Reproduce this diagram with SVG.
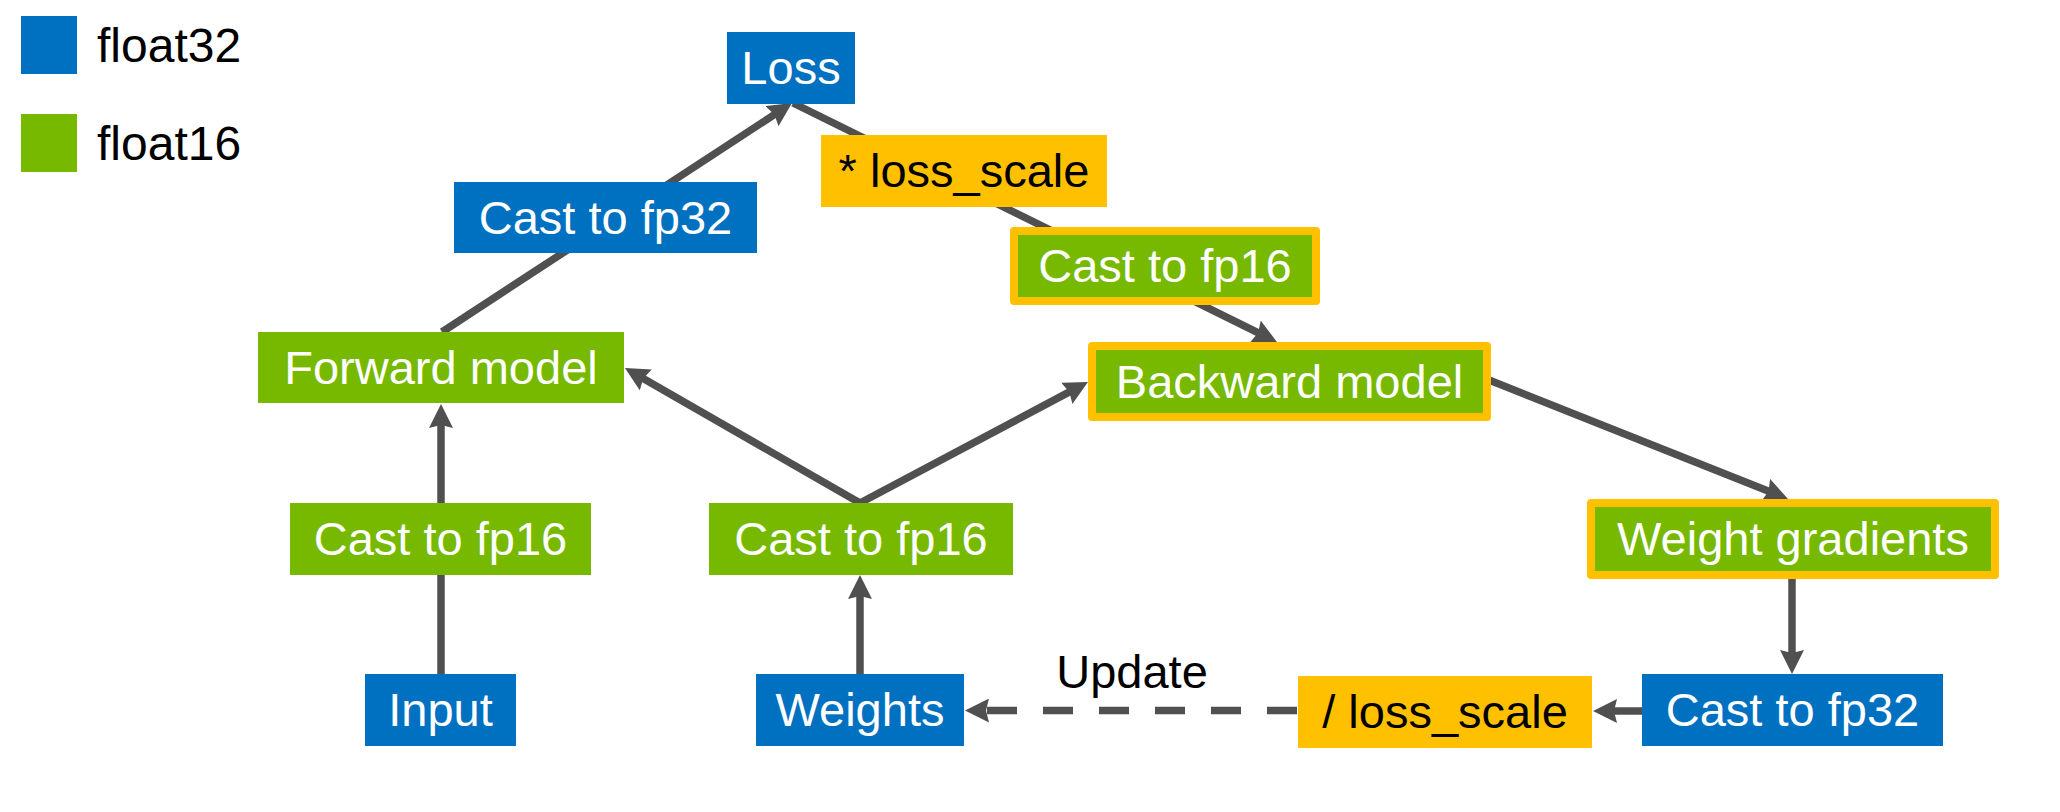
<svg xmlns="http://www.w3.org/2000/svg" width="2060" height="812" viewBox="0 0 2060 812">
  <style>
    text { font-family: "Liberation Sans", Arial, sans-serif; font-size: 47px; text-anchor: middle; }
    .fp32 { fill: #0070C0; }
    .fp16 { fill: #76B900; }
    .scale { fill: #FFC000; }
    .hl { fill: #76B900; stroke: #FFC000; stroke-width: 8; stroke-linejoin: round; }
    .lt { fill: #FFFFFF; }
    .dk { fill: #000000; }
    .legend { font-size: 48px; text-anchor: start; fill: #000000; }
    .edge { fill: none; stroke: #505050; stroke-width: 7.5; marker-end: url(#arrow); }
    .dash { stroke-dasharray: 30 26; }
  </style>
  <defs>
    <marker id="arrow" markerUnits="userSpaceOnUse" viewBox="0 0 24 24" markerWidth="24" markerHeight="24" refX="10" refY="12" orient="auto">
      <path d="M0,0 L24,12 L0,24 L3,12 z" fill="#505050"/>
    </marker>
  </defs>

  <!-- legend -->
  <g id="legend">
    <rect class="fp32" x="21" y="16" width="56" height="58"/>
    <text class="legend" x="97" y="62">float32</text>
    <rect class="fp16" x="21" y="114" width="56" height="58"/>
    <text class="legend" x="97" y="160">float16</text>
  </g>

  <!-- connectors (drawn first so boxes sit on top) -->
  <g id="connectors">
    <path class="edge" d="M442,332 L780.3,110.7"/>
    <path class="edge" d="M793,103 L1264.4,335.8"/>
    <path class="edge" d="M860,503 L637.1,375"/>
    <path class="edge" d="M860,503 L1075.6,388.6"/>
    <path class="edge" d="M1489,380 L1775,493.8"/>
    <path class="edge" d="M1792,579 L1792,660"/>
    <path class="edge" d="M1642,711 L1607,711"/>
    <path class="edge dash" d="M1297,710.5 L979,710.5"/>
    <path class="edge" d="M441,674 L441,418"/>
    <path class="edge" d="M860,674 L860,589"/>
    <text class="dk" x="1132" y="688">Update</text>
  </g>

  <g id="loss">
    <rect class="fp32" x="727" y="32" width="128" height="72"/>
    <text class="lt" x="791" y="84">Loss</text>
  </g>
  <g id="cast-fp32-fwd">
    <rect class="fp32" x="454" y="182" width="303" height="71"/>
    <text class="lt" x="605.5" y="233.5">Cast to fp32</text>
  </g>
  <g id="forward-model">
    <rect class="fp16" x="258" y="332" width="366" height="71"/>
    <text class="lt" x="441" y="383.5">Forward model</text>
  </g>
  <g id="cast-fp16-input">
    <rect class="fp16" x="290" y="503" width="301" height="72"/>
    <text class="lt" x="440.5" y="555">Cast to fp16</text>
  </g>
  <g id="input">
    <rect class="fp32" x="365" y="674" width="151" height="72"/>
    <text class="lt" x="440.5" y="726">Input</text>
  </g>
  <g id="cast-fp16-weights">
    <rect class="fp16" x="709" y="503" width="304" height="72"/>
    <text class="lt" x="861" y="555">Cast to fp16</text>
  </g>
  <g id="weights">
    <rect class="fp32" x="756" y="674" width="208" height="72"/>
    <text class="lt" x="860" y="726">Weights</text>
  </g>
  <g id="mul-loss-scale">
    <rect class="scale" x="821" y="135" width="286" height="72"/>
    <text class="dk" x="964" y="187">* loss_scale</text>
  </g>
  <g id="cast-fp16-loss">
    <rect class="hl" x="1014" y="231" width="302" height="70"/>
    <text class="lt" x="1165" y="282">Cast to fp16</text>
  </g>
  <g id="backward-model">
    <rect class="hl" x="1092" y="346" width="395" height="71"/>
    <text class="lt" x="1289.5" y="397.5">Backward model</text>
  </g>
  <g id="weight-gradients">
    <rect class="hl" x="1591" y="503" width="404" height="72"/>
    <text class="lt" x="1793" y="555">Weight gradients</text>
  </g>
  <g id="cast-fp32-grad">
    <rect class="fp32" x="1642" y="674" width="301" height="72"/>
    <text class="lt" x="1792.5" y="726">Cast to fp32</text>
  </g>
  <g id="div-loss-scale">
    <rect class="scale" x="1298" y="676" width="294" height="72"/>
    <text class="dk" x="1445" y="728">/ loss_scale</text>
  </g>
</svg>
